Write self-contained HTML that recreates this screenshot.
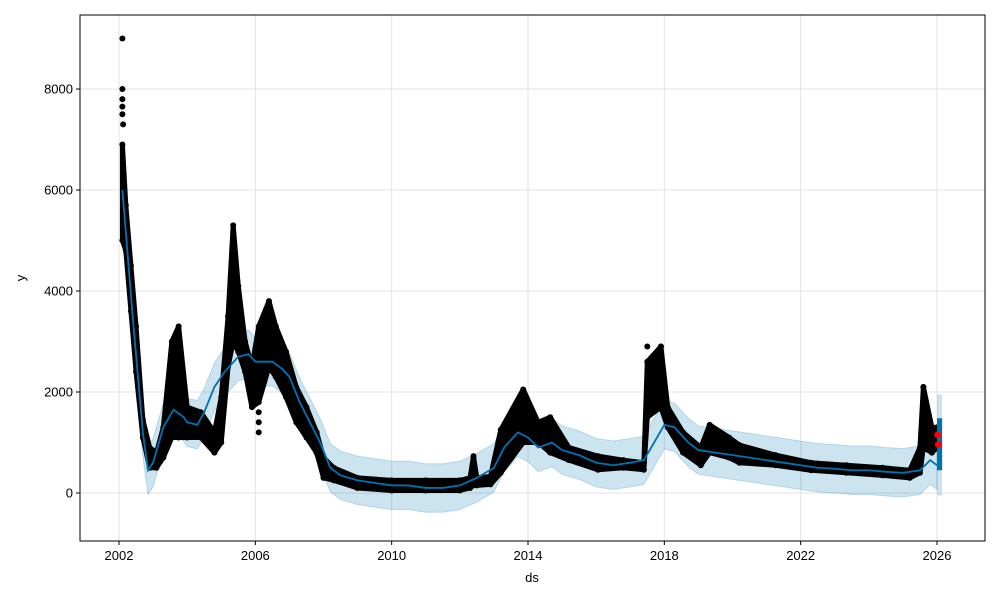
<!DOCTYPE html>
<html><head><meta charset="utf-8"><style>
html,body{margin:0;padding:0;background:#fff;}
svg text{font-family:"Liberation Sans","DejaVu Sans",sans-serif;font-size:13px;fill:#000;}
</style></head><body>
<svg id="chart" width="1000" height="600">
<rect x="0" y="0" width="1000" height="600" fill="#fff"/>
<g id="grid"></g>
<g id="band"></g>
<g id="obs"></g>
<g id="line"></g>
<g id="axes"></g>
<text x="532" y="582" text-anchor="middle">ds</text>
<text x="25" y="278" text-anchor="middle" transform="rotate(-90 25 278)">y</text>
</svg>
<script>
const xTicks=[2002,2006,2010,2014,2018,2022,2026];
const yTicks=[0,2000,4000,6000,8000];
const fcYears=[2002.1,2002.4,2002.7,2002.85,2003.0,2003.3,2003.6,2003.9,2004.0,2004.3,2004.5,2004.8,2005.1,2005.5,2005.8,2006.0,2006.5,2006.8,2007.0,2007.3,2007.6,2007.9,2008.2,2008.5,2009.0,2009.5,2010.0,2010.5,2011.0,2011.5,2012.0,2012.5,2013.0,2013.3,2013.7,2014.0,2014.3,2014.7,2015.0,2015.5,2016.0,2016.5,2017.0,2017.4,2017.7,2018.0,2018.3,2018.7,2019.0,2019.5,2020.0,2020.5,2021.0,2021.5,2022.0,2022.5,2023.0,2023.5,2024.0,2024.5,2025.0,2025.5,2025.8,2026.0];
const yhat=[6000,3500,1200,450,600,1300,1650,1500,1400,1350,1600,2100,2400,2700,2750,2600,2600,2450,2300,1800,1400,1000,500,350,250,200,150,150,100,100,150,300,500,900,1200,1100,900,1000,850,750,600,550,600,650,1000,1350,1300,1000,850,800,750,700,650,600,550,500,480,450,450,420,400,450,650,550];
const bandHalf=[480,480,480,480,480,480,480,480,480,480,480,480,480,480,480,480,480,480,480,480,480,480,480,480,480,480,480,480,480,480,480,480,480,480,480,480,480,480,480,480,480,480,480,480,480,480,480,480,480,480,480,480,480,480,480,480,480,480,480,480,480,480,480,480];
const obsYears=[2002.1,2002.2,2002.35,2002.5,2002.7,2002.9,2003.1,2003.3,2003.55,2003.75,2004.0,2004.4,2004.8,2005.0,2005.2,2005.35,2005.5,2005.7,2005.9,2006.1,2006.4,2006.6,2006.9,2007.2,2007.5,2007.8,2008.0,2008.3,2009.0,2010.0,2011.0,2012.0,2012.3,2012.4,2012.5,2012.9,2013.2,2013.86,2014.3,2014.65,2015.2,2016.05,2016.8,2017.4,2017.5,2017.9,2018.1,2018.55,2019.07,2019.33,2019.9,2020.2,2021.26,2022.3,2023.34,2024.4,2025.2,2025.5,2025.6,2025.85,2026.0];
const obsHigh=[6900,5700,4500,3300,1450,900,800,1300,3000,3300,1700,1600,1200,1900,3500,5300,4100,3000,2500,3300,3800,3300,2800,2100,1700,1200,700,500,300,250,250,250,300,730,300,330,1250,2050,1400,1500,900,730,650,600,2600,2900,1700,1200,900,1350,1100,950,750,600,550,500,450,900,2100,1300,1300];
const obsLow=[5000,4800,3600,2400,1100,500,500,700,1100,1100,1100,1100,800,1000,2500,3000,2800,2400,1700,1800,2500,2300,1900,1400,1100,800,300,250,100,50,50,50,100,150,150,170,400,1000,1000,800,650,460,500,460,1500,1700,1300,800,550,800,700,600,550,450,400,350,300,400,900,800,900];
const outYears=[2002.1,2002.1,2002.1,2002.1,2002.1,2002.12,2006.1,2006.1,2006.1,2017.5,2017.9,2025.6];
const outValues=[9000,8000,7800,7650,7500,7300,1200,1400,1600,2900,2900,2100];
const recentYears=[2026.02,2026.04];
const recentValues=[1150,960];
const fcBlockYears=[2026.0,2026.15];
const fcBlockLow=[450,450];
const fcBlockHigh=[1480,1480];
const fcBandLow=[-50,-50];
const fcBandHigh=[1950,1950];

const L=80,R=985,T=15,B=541;
function X(yr){return 119+(yr-2002)*(937-119)/24;}
function Y(v){return 493-v*(493-89)/8000;}
const NS='http://www.w3.org/2000/svg';
function mk(tag,attrs,parent){const e=document.createElementNS(NS,tag);for(const k in attrs)e.setAttribute(k,attrs[k]);parent.appendChild(e);return e;}

const grid=document.getElementById('grid');
xTicks.forEach(t=>{const l=mk('line',{x1:X(t),x2:X(t),y1:T,y2:B,stroke:'#e3e3e3','stroke-width':1},grid);

});
yTicks.forEach(t=>{const l=mk('line',{x1:L,x2:R,y1:Y(t),y2:Y(t),stroke:'#e3e3e3','stroke-width':1},grid);

});

const band=document.getElementById('band');
let up=fcYears.map((yr,i)=>X(yr)+','+Y(yhat[i]+bandHalf[i]));
let lo=fcYears.map((yr,i)=>X(yr)+','+Y(yhat[i]-bandHalf[i])).reverse();
const poly=mk('polygon',{points:up.concat(lo).join(' '),fill:'#0072B2','fill-opacity':0.2,stroke:'#0072B2','stroke-opacity':0.2},band);


const fband=mk('rect',{x:X(fcBlockYears[0]),y:Y(fcBandHigh[0]),width:X(fcBlockYears[1])-X(fcBlockYears[0]),height:Y(fcBandLow[0])-Y(fcBandHigh[0]),fill:'#0072B2','fill-opacity':0.2},band);



const obs=document.getElementById('obs');
let oh=obsYears.map((yr,i)=>X(yr)+','+Y(obsHigh[i]));
let ol=obsYears.map((yr,i)=>X(yr)+','+Y(obsLow[i])).reverse();
const op=mk('polygon',{points:oh.concat(ol).join(' '),fill:'#000',stroke:'#000','stroke-width':5,'stroke-linejoin':'round'},obs);


obsYears.forEach((yr,i)=>{
const c1=mk('circle',{cx:X(yr),cy:Y(obsHigh[i]),r:3,fill:'#000'},obs);


const c2=mk('circle',{cx:X(yr),cy:Y(obsLow[i]),r:3,fill:'#000'},obs);

});
outYears.forEach((yr,i)=>{const c=mk('circle',{cx:X(yr),cy:Y(outValues[i]),r:3,fill:'#000'},obs);

});

const line=document.getElementById('line');
const fl=mk('polyline',{points:fcYears.map((yr,i)=>X(yr)+','+Y(yhat[i])).join(' '),fill:'none',stroke:'#0072B2','stroke-width':1.8},line);


const fb=mk('rect',{x:X(fcBlockYears[0]),y:Y(fcBlockHigh[0]),width:X(fcBlockYears[1])-X(fcBlockYears[0]),height:Y(fcBlockLow[0])-Y(fcBlockHigh[0]),fill:'#0072B2'},line);


recentYears.forEach((yr,i)=>{const c=mk('circle',{cx:X(yr),cy:Y(recentValues[i]),r:3.5,fill:'red'},line);

});

const axes=document.getElementById('axes');
const fr=mk('rect',{x:L,y:T,width:R-L,height:B-T,fill:'none',stroke:'#000','stroke-width':1},axes);


xTicks.forEach(t=>{mk('line',{x1:X(t),x2:X(t),y1:B,y2:B+4,stroke:'#000'},axes);
const tx=mk('text',{x:X(t),y:B+19,'text-anchor':'middle'},axes);tx.textContent=t;

});
yTicks.forEach(t=>{mk('line',{x1:L-4,x2:L,y1:Y(t),y2:Y(t),stroke:'#000'},axes);
const tx=mk('text',{x:L-7,y:Y(t)+4.5,'text-anchor':'end'},axes);tx.textContent=t;

});
</script>
</body></html>
